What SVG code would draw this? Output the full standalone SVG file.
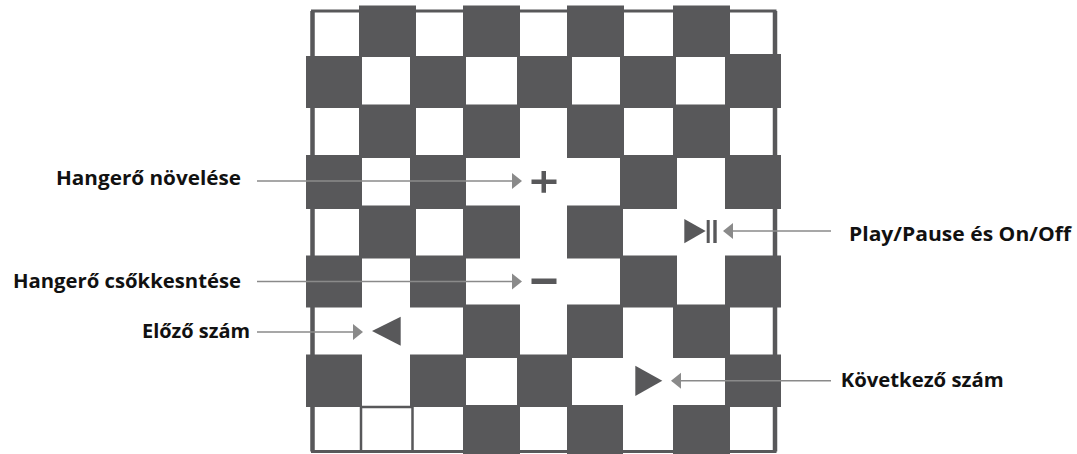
<svg xmlns="http://www.w3.org/2000/svg" width="1077" height="454" viewBox="0 0 1077 454">
<style>
.d{fill:#58585a}
.f{fill:none;stroke:#58585a}
.c{fill:none;stroke:#8a8a8a;stroke-width:1.6}
.h{fill:#8a8a8a}
text{font-family:"Open Sans","Noto Sans",sans-serif;font-weight:700;font-size:19px;fill:#111}
</style>
<defs>
<path id="r" class="h" d="M0 0l-10-8v16z"/>
<path id="l" class="h" d="M0 0l10-8v16z"/>
</defs>
<rect width="1077" height="454" fill="#fff"/>
<g id="board">
<path class="f" stroke-width="4.500" d="M312.500 11V451.500M775 11V451.500"/>
<path class="f" stroke-width="3" d="M311 11H776.500M311 451.500H776.500"/>
<path class="f" stroke-width="2.500" d="M361 407V451M412.500 407V451M361 407H412"/>
<g class="d">
<rect x="359" y="5.500" width="57" height="51.500"/><rect x="463" y="5.500" width="57" height="51.500"/><rect x="567" y="5.500" width="57" height="51.500"/><rect x="673" y="5.500" width="57" height="51.500"/>
<rect x="306" y="56" width="56" height="52"/><rect x="410" y="56" width="56" height="52"/><rect x="517" y="56" width="55" height="52"/><rect x="620" y="56" width="56" height="52"/><rect x="725" y="54" width="56" height="54"/>
<rect x="359" y="104.500" width="57" height="53.500"/><rect x="463" y="104.500" width="57" height="53.500"/><rect x="567" y="104.500" width="57" height="53.500"/><rect x="673" y="104.500" width="57" height="53.500"/>
<rect x="306" y="155" width="56" height="54"/><rect x="410" y="155" width="56" height="54"/><rect x="620" y="155" width="57" height="54"/><rect x="725" y="155" width="56" height="54"/>
<rect x="359" y="205.500" width="57" height="53"/><rect x="463" y="205.500" width="57" height="53"/><rect x="567" y="205.500" width="56" height="53"/>
<rect x="306" y="255.500" width="56" height="52"/><rect x="410" y="255.500" width="56" height="52"/><rect x="620" y="255.500" width="57" height="52"/><rect x="725" y="255.500" width="56" height="52"/>
<rect x="463" y="304.500" width="57" height="53.500"/><rect x="567" y="304.500" width="56" height="53.500"/><rect x="673" y="304.500" width="57" height="53.500"/>
<rect x="306" y="354.500" width="56" height="52.500"/><rect x="410" y="354.500" width="56" height="52.500"/><rect x="517" y="354.500" width="55" height="52.500"/><rect x="725" y="354.500" width="56" height="52.500"/>
<rect x="463" y="405" width="57" height="49"/><rect x="567" y="405" width="56" height="49"/><rect x="673" y="405" width="57" height="49"/>
</g>
</g>
<g id="connectors">
<path class="c" d="M257 181H514M257 281.500H514M257 332H355M724 231H831M672 380.700H831"/>
<use href="#r" x="522" y="181"/><use href="#r" x="522" y="281.500"/><use href="#r" x="363" y="332"/>
<use href="#l" x="723" y="231"/><use href="#l" x="671" y="380.700"/>
</g>
<g id="vol-up"><path class="d" d="M531.500 179.500H541.500V171H546V179.500H556.500V184H546V192.700H541.500V184H531.500Z"/><text x="56" y="185" textLength="185" lengthAdjust="spacingAndGlyphs">Hangerő növelése</text></g>
<g id="vol-down"><rect class="d" x="531.500" y="278.500" width="25" height="5.500"/><text x="13" y="287.700" textLength="228" lengthAdjust="spacingAndGlyphs">Hangerő csőkkesntése</text></g>
<g id="prev"><path class="d" d="M372 331L400.700 316.700V345.700Z"/><text x="142" y="338" textLength="108" lengthAdjust="spacingAndGlyphs">Előző szám</text></g>
<g id="play"><path class="d" d="M684.300 219L705.700 231L684.300 243.300Z"/><rect class="d" x="706.700" y="220" width="3" height="23"/><rect class="d" x="713.300" y="220" width="3.400" height="23"/><text x="849" y="240.700" textLength="222" lengthAdjust="spacingAndGlyphs">Play/Pause és On/Off</text></g>
<g id="next"><path class="d" d="M635.300 365.700L662.300 380.700L635.300 396Z"/><text x="840.700" y="386.700" textLength="163" lengthAdjust="spacingAndGlyphs">Következő szám</text></g>
</svg>
